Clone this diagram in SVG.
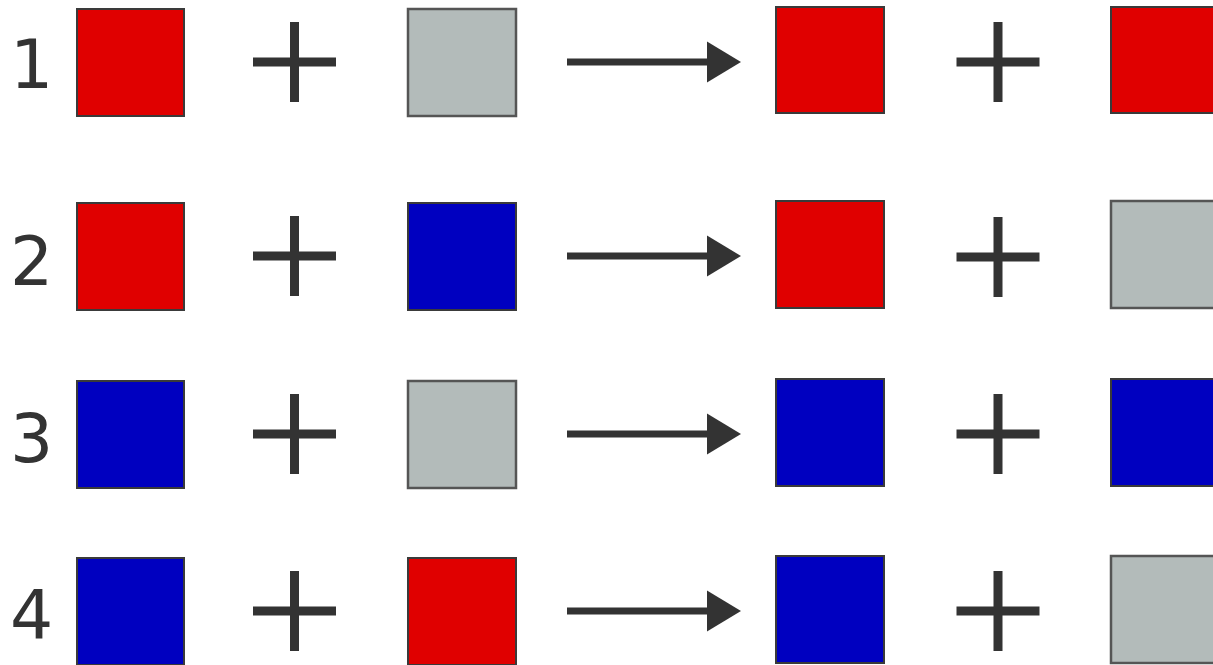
<svg xmlns="http://www.w3.org/2000/svg" width="1213" height="665" viewBox="0 0 1213 665">
<defs>
<style>
.lbl{font-family:"DejaVu Sans","Liberation Sans",sans-serif;font-size:68px;fill:#333}
.sq{stroke:#3a3a3a;stroke-width:2}
.r{fill:#e00000}
.b{fill:#0000c0}
.g{fill:#b3bbba;stroke:#555;stroke-width:2.5}
.plus{stroke:#333;stroke-width:9;fill:none}
.shaft{stroke:#333;stroke-width:7;fill:none}
.head{fill:#333}
</style>
<g id="plus-sym"><path class="plus" d="M-41.5 0H41.5M0 -40V40"/></g>
<g id="arrow-sym"><path class="shaft" d="M567 0H710"/><polygon class="head" points="707,-20.5 741,0 707,20.5"/></g>
</defs>
<rect width="1213" height="665" fill="#fff"/>

<g id="row1">
<text class="lbl" x="10" y="88">1</text>
<g id="r1a"><rect class="sq r" x="77" y="9" width="107" height="107"/></g>
<g id="r1b"><rect class="sq g" x="408" y="9" width="108" height="107"/></g>
<g id="r1c"><rect class="sq r" x="776" y="7" width="108" height="106"/></g>
<g id="r1d"><rect class="sq r" x="1111" y="7" width="108" height="106"/></g>
</g>
<g id="row2">
<text class="lbl" x="10" y="285">2</text>
<g id="r2a"><rect class="sq r" x="77" y="203" width="107" height="107"/></g>
<g id="r2b"><rect class="sq b" x="408" y="203" width="108" height="107"/></g>
<g id="r2c"><rect class="sq r" x="776" y="201" width="108" height="107"/></g>
<g id="r2d"><rect class="sq g" x="1111" y="201" width="108" height="107"/></g>
</g>
<g id="row3">
<text class="lbl" x="10" y="462">3</text>
<g id="r3a"><rect class="sq b" x="77" y="381" width="107" height="107"/></g>
<g id="r3b"><rect class="sq g" x="408" y="381" width="108" height="107"/></g>
<g id="r3c"><rect class="sq b" x="776" y="379" width="108" height="107"/></g>
<g id="r3d"><rect class="sq b" x="1111" y="379" width="108" height="107"/></g>
</g>
<g id="row4">
<text class="lbl" x="10" y="639">4</text>
<g id="r4a"><rect class="sq b" x="77" y="558" width="107" height="107"/></g>
<g id="r4b"><rect class="sq r" x="408" y="558" width="108" height="107"/></g>
<g id="r4c"><rect class="sq b" x="776" y="556" width="108" height="107"/></g>
<g id="r4d"><rect class="sq g" x="1111" y="556" width="108" height="107"/></g>
</g>

<g id="operators">
<use href="#plus-sym" x="294.5" y="62"/>
<use href="#plus-sym" x="998" y="62"/>
<use href="#plus-sym" x="294.5" y="256"/>
<use href="#plus-sym" x="998" y="257"/>
<use href="#plus-sym" x="294.5" y="434"/>
<use href="#plus-sym" x="998" y="434"/>
<use href="#plus-sym" x="294.5" y="611"/>
<use href="#plus-sym" x="998" y="611"/>
</g>
<g id="connectors">
<use href="#arrow-sym" y="62"/>
<use href="#arrow-sym" y="256"/>
<use href="#arrow-sym" y="434"/>
<use href="#arrow-sym" y="611"/>
</g>
</svg>
